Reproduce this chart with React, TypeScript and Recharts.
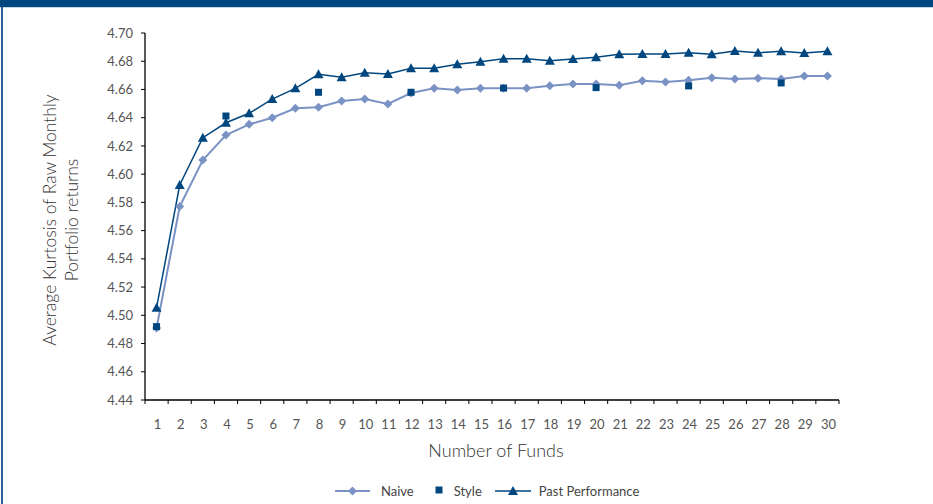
import React from "react";
import {
  ComposedChart,
  Line,
  Scatter,
  XAxis,
  YAxis,
} from "recharts";

const funds = [
  1, 2, 3, 4, 5, 6, 7, 8, 9, 10, 11, 12, 13, 14, 15, 16, 17, 18, 19, 20, 21,
  22, 23, 24, 25, 26, 27, 28, 29, 30,
];

const naive = [
  4.491, 4.577, 4.61, 4.6277, 4.6353, 4.64, 4.6467, 4.6474, 4.6518, 4.6532,
  4.6497, 4.6575, 4.6608, 4.6596, 4.6608, 4.6608, 4.6608, 4.6627, 4.6638,
  4.6638, 4.663, 4.6662, 4.6653, 4.6665, 4.6683, 4.6674, 4.668, 4.6674,
  4.6695, 4.6695,
];

const pastPerformance = [
  4.5054, 4.5923, 4.6258, 4.6364, 4.6431, 4.6532, 4.6608, 4.6707, 4.6686,
  4.6719, 4.671, 4.675, 4.675, 4.6778, 4.6797, 4.6818, 4.6818, 4.6804, 4.6816,
  4.6828, 4.6849, 4.6851, 4.6851, 4.686, 4.6849, 4.6872, 4.686, 4.687,
  4.6858, 4.687,
];

const styleFunds = [1, 4, 8, 12, 16, 20, 24, 28];
const styleValues = [4.492, 4.6412, 4.658, 4.658, 4.661, 4.6613, 4.6625, 4.6646];

const yTicks = [
  4.44, 4.46, 4.48, 4.5, 4.52, 4.54, 4.56, 4.58, 4.6, 4.62, 4.64, 4.66, 4.68,
  4.7,
];

const DARK = "#00467f";
const LIGHT = "#7b93c4";
const FONT = "Lato, 'Open Sans', sans-serif";

const W = 933;
const H = 504;
const PLOT_LEFT = 145;
const PLOT_RIGHT = 839;
const PLOT_TOP = 33;
const PLOT_BOTTOM = 400;
const BAND = (PLOT_RIGHT - PLOT_LEFT) / funds.length;

const lineData = funds.map((n, i) => ({
  n,
  naive: naive[i],
  past: pastPerformance[i],
}));

const styleData = styleFunds.map((n, i) => ({ n, style: styleValues[i] }));

const Diamond = (props: any) => {
  const { cx, cy } = props;
  if (cx == null || cy == null) return <g />;
  const r = 4.5;
  return (
    <path
      d={`M${cx},${cy - r}L${cx + r},${cy}L${cx},${cy + r}L${cx - r},${cy}Z`}
      fill={LIGHT}
    />
  );
};

const Triangle = (props: any) => {
  const { cx, cy } = props;
  if (cx == null || cy == null) return <g />;
  return (
    <path
      d={`M${cx},${cy - 5}L${cx + 5},${cy + 4}L${cx - 5},${cy + 4}Z`}
      fill={DARK}
    />
  );
};

const Square = (props: any) => {
  const { cx, cy } = props;
  if (cx == null || cy == null) return <g />;
  return <rect x={cx - 3.5} y={cy - 3.5} width={7} height={7} fill={DARK} />;
};

const FundTick = (props: any) => {
  const { x, payload, index } = props;
  const half = BAND / 2;
  return (
    <g>
      {index === 0 && (
        <line
          x1={x - half}
          x2={x - half}
          y1={PLOT_BOTTOM}
          y2={PLOT_BOTTOM + 4}
          stroke="#000"
        />
      )}
      <line
        x1={x + half}
        x2={x + half}
        y1={PLOT_BOTTOM}
        y2={PLOT_BOTTOM + 4}
        stroke="#000"
      />
      <text
        x={x + 1}
        y={PLOT_BOTTOM + 29}
        textAnchor="middle"
        fontSize={13}
        fontFamily={FONT}
        fill="#555"
      >
        {payload.value}
      </text>
    </g>
  );
};

const YTitle = () => (
  <text
    transform="translate(56,220) rotate(-90)"
    textAnchor="middle"
    fontSize={17.5}
    fontWeight={300}
    fontFamily={FONT}
    fill="#333"
  >
    <tspan x={0} dy={0}>
      Average Kurtosis of Raw Monthly
    </tspan>
    <tspan x={0} dy={22}>
      Portfolio returns
    </tspan>
  </text>
);

function LegendRow() {
  const text: React.CSSProperties = {
    fontFamily: FONT,
    fontSize: 13,
    color: "#444",
  };
  return (
    <div
      style={{
        position: "absolute",
        top: 482,
        left: 334,
        display: "flex",
        alignItems: "center",
        height: 18,
      }}
    >
      <svg width={38} height={12}>
        <line x1={1} x2={36} y1={6} y2={6} stroke={LIGHT} strokeWidth={2} />
        <Diamond cx={18.5} cy={6} />
      </svg>
      <span style={{ ...text, marginLeft: 9 }}>Naive</span>
      <svg width={10} height={12} style={{ marginLeft: 20 }}>
        <Square cx={5} cy={5} />
      </svg>
      <span style={{ ...text, marginLeft: 10 }}>Style</span>
      <svg width={38} height={12} style={{ marginLeft: 12 }}>
        <line x1={1} x2={37} y1={6} y2={6} stroke={DARK} strokeWidth={1.5} />
        <Triangle cx={19} cy={6} />
      </svg>
      <span style={{ ...text, marginLeft: 7 }}>Past Performance</span>
    </div>
  );
}

export default function App() {
  return (
    <div
      style={{
        position: "absolute",
        left: 0,
        top: 0,
        width: W,
        height: H,
        background: "#fff",
        overflow: "hidden",
      }}
    >
      <div
        style={{
          position: "absolute",
          left: 0,
          top: 0,
          width: W,
          height: 7,
          background: DARK,
          borderBottom: "1px solid #c9d6e6",
        }}
      />
      <div
        style={{
          position: "absolute",
          left: 1,
          top: 7,
          width: 2,
          height: H - 7,
          background: "#2d5f9a",
        }}
      />
      <div style={{ position: "absolute", left: 0, top: 0 }}>
        <ComposedChart
          width={W}
          height={H}
          data={lineData}
          margin={{
            top: PLOT_TOP,
            right: W - PLOT_RIGHT,
            left: 0,
            bottom: 0,
          }}
        >
          <XAxis
            dataKey="n"
            type="number"
            domain={[0.5, 30.5]}
            ticks={funds}
            interval={0}
            height={H - PLOT_BOTTOM}
            axisLine={{ stroke: "#000", strokeWidth: 1.3 }}
            tickLine={false}
            tick={<FundTick />}
            label={{
              value: "Number of Funds",
              position: "insideTop",
              offset: 44,
              dx: 4,
              fontSize: 18,
              fontWeight: 300,
              fontFamily: FONT,
              fill: "#333",
            }}
          />
          <YAxis
            type="number"
            domain={[4.44, 4.7]}
            ticks={yTicks}
            interval={0}
            width={PLOT_LEFT}
            tickFormatter={(v: number) => v.toFixed(2)}
            axisLine={{ stroke: "#000", strokeWidth: 1.3 }}
            tickLine={{ stroke: "#000" }}
            tickSize={4}
            tickMargin={8}
            tick={{ fontSize: 13, fontFamily: FONT, fill: "#555" }}
            label={<YTitle />}
          />
          <Line
            dataKey="naive"
            stroke={LIGHT}
            strokeWidth={2}
            dot={<Diamond />}
            activeDot={false}
            isAnimationActive={false}
          />
          <Line
            dataKey="past"
            stroke={DARK}
            strokeWidth={1.5}
            dot={<Triangle />}
            activeDot={false}
            isAnimationActive={false}
          />
          <Scatter
            data={styleData}
            dataKey="style"
            shape={<Square />}
            isAnimationActive={false}
          />
        </ComposedChart>
      </div>
      <LegendRow />
    </div>
  );
}
